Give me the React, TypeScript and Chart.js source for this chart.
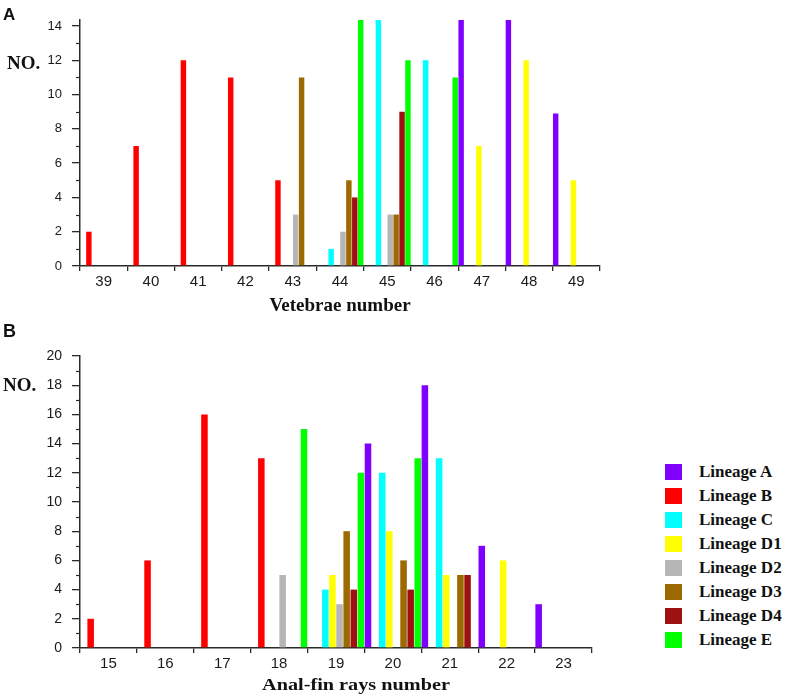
import React, { useEffect, useRef } from "react";
import { Chart, registerables } from "chart.js";

Chart.register(...registerables);

// ---------- data ----------
const lineageNames = [
  "Lineage A",
  "Lineage B",
  "Lineage C",
  "Lineage D1",
  "Lineage D2",
  "Lineage D3",
  "Lineage D4",
  "Lineage E",
];
const lineageColors = [
  "#8000ff",
  "#ff0000",
  "#00ffff",
  "#ffff00",
  "#b6b6b6",
  "#9c6a00",
  "#9e1111",
  "#00ff00",
];

// Panel A: vertebrae number
const vertebraeCategories = ["39", "40", "41", "42", "43", "44", "45", "46", "47", "48", "49"];
const vertA = [0, 0, 0, 0, 0, 0, 0, 0, 15, 15, 8.9];
const vertB = [2, 7, 12, 11, 5, 0, 0, 0, 0, 0, 0];
const vertC = [0, 0, 0, 0, 0, 1, 15, 12, 0, 0, 0];
const vertD1 = [0, 0, 0, 0, 0, 0, 0, 0, 7, 12, 5];
const vertD2 = [0, 0, 0, 0, 3, 2, 3, 0, 0, 0, 0];
const vertD3 = [0, 0, 0, 0, 11, 5, 3, 0, 0, 0, 0];
const vertD4 = [0, 0, 0, 0, 0, 4, 9, 0, 0, 0, 0];
const vertE = [0, 0, 0, 0, 0, 15, 12, 11, 0, 0, 0];

// Panel B: anal-fin rays number
const finCategories = ["15", "16", "17", "18", "19", "20", "21", "22", "23"];
const finA = [0, 0, 0, 0, 0, 14, 18, 7, 3];
const finB = [2, 6, 16, 13, 0, 0, 0, 0, 0];
const finC = [0, 0, 0, 0, 4, 12, 13, 0, 0];
const finD1 = [0, 0, 0, 0, 5, 8, 5, 6, 0];
const finD2 = [0, 0, 0, 5, 3, 0, 0, 0, 0];
const finD3 = [0, 0, 0, 0, 8, 6, 5, 0, 0];
const finD4 = [0, 0, 0, 0, 4, 4, 5, 0, 0];
const finE = [0, 0, 0, 15, 12, 13, 0, 0, 0];

const vertSeries = [vertA, vertB, vertC, vertD1, vertD2, vertD3, vertD4, vertE];
const finSeries = [finA, finB, finC, finD1, finD2, finD3, finD4, finE];

const SANS = "'Liberation Sans', Arial, sans-serif";
const SERIF = "'Liberation Serif', 'Times New Roman', serif";
const AXIS_COLOR = "#2a2a2a";

const minorTicks = {
  id: "minorTicks",
  afterDraw(chart: any) {
    const s = chart.scales.y;
    const ctx = chart.ctx;
    ctx.save();
    ctx.strokeStyle = AXIS_COLOR;
    ctx.lineWidth = 1.2;
    for (let v = Math.ceil(s.min); v <= s.max; v++) {
      if (v % 2 === 0) continue;
      const y = Math.round(s.getPixelForValue(v)) + 0.5;
      ctx.beginPath();
      ctx.moveTo(s.right - 4, y);
      ctx.lineTo(s.right, y);
      ctx.stroke();
    }
    ctx.restore();
  },
};

function makeConfig(
  categories: string[],
  series: number[][],
  yMax: number,
  title: string | null,
  pad: { top: number; right: number },
  xHeight: number,
  titlePadBottom: number,
  yFont: number
): any {
  return {
    type: "bar",
    data: {
      labels: categories,
      datasets: series.map((vals, i) => ({
        label: lineageNames[i],
        data: vals,
        backgroundColor: lineageColors[i],
        borderWidth: 0,
        categoryPercentage: 1,
        barPercentage: 0.92,
      })),
    },
    options: {
      responsive: false,
      animation: false,
      layout: { padding: { left: 0, top: pad.top, right: pad.right, bottom: 0 } },
      plugins: { legend: { display: false }, tooltip: { enabled: false } },
      scales: {
        x: {
          offset: true,
          grid: {
            offset: true,
            drawOnChartArea: false,
            drawTicks: true,
            tickLength: 5,
            color: AXIS_COLOR,
            lineWidth: 1.3,
          },
          border: { display: true, color: AXIS_COLOR, width: 1.5 },
          ticks: {
            color: "#1a1a1a",
            font: { family: SANS, size: 15 },
            padding: 2,
            maxRotation: 0,
            autoSkip: false,
          },
          title: {
            display: !!title,
            text: title || "",
            color: "#111",
            font: { family: SERIF, size: 19, weight: "bold" },
            padding: { top: 0, bottom: titlePadBottom },
          },
          afterFit: (s: any) => {
            s.height = xHeight;
          },
        },
        y: {
          min: 0,
          max: yMax,
          grid: {
            drawOnChartArea: false,
            drawTicks: true,
            tickLength: 8,
            color: AXIS_COLOR,
            lineWidth: 1.3,
          },
          border: { display: true, color: AXIS_COLOR, width: 1.5 },
          ticks: {
            stepSize: 2,
            includeBounds: false,
            color: "#1a1a1a",
            font: { family: SANS, size: yFont },
            padding: 10,
          },
          afterFit: (s: any) => {
            s.width = 80;
          },
        },
      },
    },
    plugins: [minorTicks],
  };
}

function BarPanel(props: {
  categories: string[];
  series: number[][];
  yMax: number;
  title: string | null;
  width: number;
  height: number;
  pad: { top: number; right: number };
  xHeight: number;
  titlePadBottom: number;
  yFont: number;
}) {
  const ref = useRef<HTMLCanvasElement | null>(null);
  useEffect(() => {
    if (!ref.current) return;
    const chart = new Chart(
      ref.current,
      makeConfig(
        props.categories,
        props.series,
        props.yMax,
        props.title,
        props.pad,
        props.xHeight,
        props.titlePadBottom,
        props.yFont
      )
    );
    return () => chart.destroy();
  }, []);
  return (
    <canvas
      ref={ref}
      width={props.width}
      height={props.height}
      style={{ display: "block", width: props.width, height: props.height }}
    />
  );
}

const labelStyle: React.CSSProperties = {
  position: "absolute",
  lineHeight: 1,
  whiteSpace: "nowrap",
  color: "#111",
};

export default function App() {
  return (
    <div
      style={{
        position: "fixed",
        left: 0,
        top: 0,
        width: 796,
        height: 696,
        background: "#fff",
        overflow: "hidden",
      }}
    >
      <div style={{ position: "absolute", left: 0, top: 0 }}>
        <BarPanel
          categories={vertebraeCategories}
          series={vertSeries}
          yMax={14.35}
          title="Vetebrae number"
          width={620}
          height={320}
          pad={{ top: 20, right: 20 }}
          xHeight={54}
          titlePadBottom={3}
          yFont={13}
        />
      </div>
      <div style={{ position: "absolute", left: 0, top: 320 }}>
        <BarPanel
          categories={finCategories}
          series={finSeries}
          yMax={20}
          title={null}
          width={620}
          height={376}
          pad={{ top: 36, right: 28 }}
          xHeight={48}
          titlePadBottom={0}
          yFont={14}
        />
      </div>

      <div style={{ ...labelStyle, left: 3, top: 5, font: `bold 17px ${SANS}` }}>A</div>
      <div style={{ ...labelStyle, left: 3, top: 321, font: `bold 18px ${SANS}` }}>B</div>
      <div style={{ ...labelStyle, left: 7, top: 52, font: `bold 19px ${SERIF}` }}>NO.</div>
      <div style={{ ...labelStyle, left: 3, top: 374, font: `bold 19px ${SERIF}` }}>NO.</div>
      <div
        style={{
          ...labelStyle,
          left: 262,
          top: 676,
          font: `bold 16px ${SERIF}`,
          transform: "scaleX(1.266)",
          transformOrigin: "left top",
        }}
      >
        Anal-fin rays number
      </div>

      <div style={{ position: "absolute", left: 665, top: 460 }}>
        {lineageNames.map((name, i) => (
          <div
            key={name}
            style={{ display: "flex", alignItems: "center", height: 24 }}
          >
            <div
              style={{
                width: 17,
                height: 16,
                background: lineageColors[i],
                marginRight: 17,
              }}
            />
            <span
              style={{
                font: `bold 17px ${SERIF}`,
                color: "#111",
                whiteSpace: "nowrap",
              }}
            >
              {name}
            </span>
          </div>
        ))}
      </div>
    </div>
  );
}
